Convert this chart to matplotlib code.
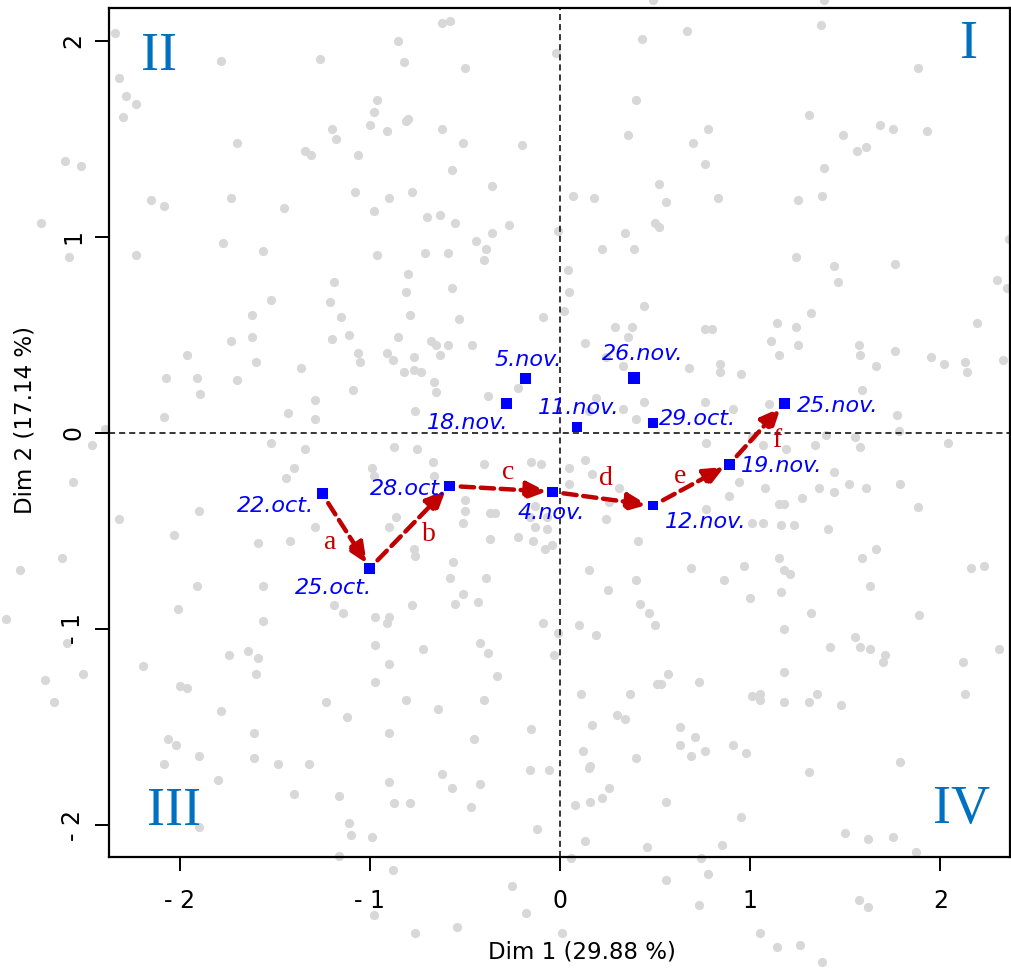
import matplotlib
matplotlib.use("Agg")
import matplotlib.pyplot as plt

# ---------------- data ----------------
# grey background individuals (Dim 1, Dim 2)
gx = [-2.34, -1.78, -1.26, -2.32, -2.28, -2.23, -2.30, -1.20, -1.18, -1.70, -1.34, -1.31, -2.60, -2.52,
      -2.15, -2.08, -1.73, -1.45, -2.73, -1.77, -1.56, -2.58, -2.23, -1.19, -1.52, -1.21, -1.62,
      -0.62, -0.58, -0.85, -0.82, -0.50, -0.02, 0.43, -0.96, -0.98, -1.00, -0.80, -0.81, -0.91, -0.62,
      -0.51, -0.20, 0.40, 0.36, -1.06, -0.57, -1.08, -0.90, -0.78, -0.36, 0.07, 0.18, 0.52, 0.56,
      -0.98, -0.70, -0.63, -0.55, -0.27, -0.36, -0.01, 0.34, 0.50, 0.52, -0.44, -0.39, -0.40, -0.96,
      -0.71, -0.59, 0.22, 0.39, -0.80, -0.81, -0.57, 0.04, 0.05, 0.44, -1.15, -0.79, -0.09, 0.02,
      0.49, 1.39,
      0.67, 1.37, 1.88, 1.31, 0.78, 0.70, 0.76, 1.49, 1.56, 1.61, 1.68, 1.75, 1.93, 1.39, 0.83, 1.25,
      1.38, 2.36, 1.24, 1.44, 1.76, 1.46, 2.30, 2.35, 1.32,
      -1.73, -1.62, -1.20, -1.96, -1.60, -1.36, -2.07, -1.91, -1.70, -1.89, -1.29, -1.43, -2.08, -1.29,
      -2.39, -2.46, -1.52, -1.34, -1.40, -1.44, -2.56, -1.90, -2.32, -2.03, -1.29, -1.42, -1.59, -2.62,
      -2.84, -1.91, -1.56, -2.01, -1.19, -2.91, -1.56, -2.59,
      -1.11, -1.06, -1.05, -0.91, -0.85, -0.88, -0.77, -0.77, -0.73, -0.82, -0.68, -0.65, -0.59, -0.63,
      -0.46, -0.66, -0.65, -1.09, -0.76, -0.38, -0.22, -0.53, 0.13, 0.29, 0.38, 0.36, 0.24, 0.33, 0.33,
      0.40, 0.44, 0.19, 0.15,
      -0.87, -0.75, -0.67, -0.99, -0.98, -0.66, -0.40, -0.15, -0.10, 0.05, 0.13, 0.17, 0.31, 0.05, 0.26,
      -0.50, -0.50, -0.37, -0.34, -0.13, -0.16, -0.13, -0.07, -0.07, -0.51, -0.90, -0.86, -0.37, -0.22,
      -0.14, -0.08, -0.04, -0.77, -0.76, -0.56, -0.58, -0.39, -0.51, -0.55, -0.43, -0.78, 0.15, 0.25,
      0.40, 0.42, 0.24, 0.41, -1.14, -0.97, -0.90, -0.91, -0.09, -0.01, 0.10, 0.19, 0.50, 0.47,
      0.76, 0.80, 1.14, 1.24, 1.11, 1.25, 1.15, 2.19, 1.57, 1.58, 1.76, 1.95, 2.02, 2.13, 2.14, 2.33,
      1.66, 0.68, 0.84, 0.84, 0.95, 1.59, 0.76, 1.10, 0.91, 1.77, 1.78, 1.40, 1.55, 1.01, 0.77, 1.07,
      1.19, 1.34, 1.58, 2.04, 1.44, 0.94, 1.08, 1.36, 1.44, 1.52, 1.61, 1.79, 0.89, 1.27, 1.15, 1.18,
      1.88, 0.77, 1.01, 1.07, 1.16, 1.23, 1.41, 1.66, 1.59, 1.15, 1.18, 1.21, 0.69, 0.97, 0.86, 1.63,
      1.16, 2.16, 2.23, 1.00, 1.32, 1.89, 1.18, 1.55,
      -1.74, -1.64, -1.59, -2.19, -1.60, -2.71, -2.51, -2.00, -1.96, -2.66, -1.23, -1.78, -1.61, -2.06,
      -2.02, -1.90, -2.08, -1.61, -1.48, -1.32, -1.80, -1.40, -1.90,
      -0.97, -0.72, -0.42, -0.38, -0.03, -0.90, -0.97, -0.33, -0.81, -0.64, -0.40, -1.12, -0.90, -0.15,
      -0.45, -0.16, -0.06, -0.62, -0.57, -0.42, -0.90, -1.16, -0.87, -0.79, -0.47, -1.11, -1.10, -0.99,
      -0.12, -1.16, 0.57, 0.51, 0.53, 0.11, 0.37, 0.30, 0.34, 0.17, 0.12, 0.40, 0.16, 0.15, 0.26, 0.22,
      0.16, 0.08, 0.56, 0.13, 0.46, 0.06, -0.88, -0.25, 0.56, -0.98, -0.18, -0.76, -0.54, 0.01,
      1.42, 1.58, 1.63, 1.71, 1.70, 2.31, 2.12, 1.18, 0.73, 1.01, 1.05, 1.05, 1.18, 1.31, 1.35, 1.48,
      2.13, 0.63, 0.63, 0.71, 0.69, 0.76, 0.91, 0.98, 1.31, 1.79, 0.95, 1.50, 1.62, 1.75, 0.85, 1.87,
      0.74, 0.78, 0.73, 1.57, 1.62, 1.05, 1.14, 1.26, 1.38]
gy = [2.04, 1.90, 1.91, 1.81, 1.72, 1.68, 1.61, 1.55, 1.50, 1.48, 1.44, 1.42, 1.39, 1.36,
      1.19, 1.16, 1.20, 1.15, 1.07, 0.97, 0.93, 0.90, 0.91, 0.77, 0.68, 0.67, 0.60,
      2.09, 2.10, 2.00, 1.89, 1.86, 1.94, 2.01, 1.70, 1.64, 1.57, 1.60, 1.59, 1.54, 1.55,
      1.48, 1.47, 1.70, 1.52, 1.42, 1.34, 1.23, 1.20, 1.23, 1.26, 1.21, 1.20, 1.27, 1.18,
      1.13, 1.10, 1.11, 1.07, 1.06, 1.02, 1.03, 1.02, 1.07, 1.05, 0.98, 0.94, 0.88, 0.91,
      0.92, 0.92, 0.94, 0.94, 0.81, 0.72, 0.74, 0.83, 0.72, 0.65, 0.59, 0.60, 0.59, 0.62,
      2.21, 2.21,
      2.05, 2.08, 1.86, 1.62, 1.55, 1.48, 1.37, 1.52, 1.44, 1.46, 1.57, 1.55, 1.54, 1.35, 1.20, 1.19,
      1.21, 0.99, 0.90, 0.85, 0.86, 0.77, 0.78, 0.74, 0.61,
      0.47, 0.49, 0.48, 0.40, 0.36, 0.33, 0.28, 0.28, 0.27, 0.20, 0.17, 0.10, 0.08, 0.07,
      0.02, -0.06, -0.05, -0.08, -0.18, -0.23, -0.25, -0.40, -0.44, -0.52, -0.48, -0.55, -0.56, -0.64,
      -0.70, -0.78, -0.78, -0.90, -0.88, -0.95, -0.96, -1.07,
      0.50, 0.41, 0.36, 0.41, 0.49, 0.37, 0.39, 0.32, 0.31, 0.31, 0.47, 0.45, 0.45, 0.40,
      0.45, 0.26, 0.21, 0.22, 0.11, 0.19, 0.23, 0.58, 0.46, 0.54, 0.54, 0.49, 0.39, 0.34, 0.12,
      0.07, 0.16, 0.18, 0.11,
      -0.07, -0.08, -0.15, -0.18, -0.22, -0.22, -0.16, -0.15, -0.16, -0.18, -0.14, -0.21, -0.28, -0.26, -0.35,
      -0.34, -0.40, -0.41, -0.41, -0.37, -0.43, -0.48, -0.43, -0.49, -0.46, -0.48, -0.43, -0.54, -0.53,
      -0.55, -0.59, -0.57, -0.59, -0.63, -0.66, -0.74, -0.74, -0.82, -0.87, -0.86, -0.88, -0.70, -0.80,
      -0.75, -0.87, -0.44, -0.55, -0.92, -0.94, -0.94, -0.97, -0.97, -1.02, -0.98, -1.03, -0.98, -0.92,
      0.53, 0.53, 0.56, 0.54, 0.47, 0.45, 0.40, 0.56, 0.45, 0.40, 0.42, 0.39, 0.35, 0.36, 0.31, 0.37,
      0.34, 0.33, 0.35, 0.31, 0.30, 0.22, 0.16, 0.15, 0.12, 0.09, 0.01, -0.01, -0.02, -0.02, -0.05, -0.06,
      -0.08, -0.06, -0.07, -0.05, -0.20, -0.25, -0.28, -0.28, -0.30, -0.26, -0.28, -0.26, -0.32, -0.33, -0.36, -0.36,
      -0.38, -0.39, -0.46, -0.46, -0.47, -0.47, -0.49, -0.59, -0.64, -0.64, -0.70, -0.72, -0.69, -0.68, -0.75, -0.78,
      -0.81, -0.69, -0.68, -0.84, -0.92, -0.93, -1.00, -1.04,
      -1.13, -1.11, -1.15, -1.19, -1.23, -1.26, -1.23, -1.29, -1.30, -1.37, -1.37, -1.42, -1.53, -1.56,
      -1.59, -1.65, -1.69, -1.66, -1.69, -1.69, -1.77, -1.84, -2.01,
      -1.08, -1.10, -1.07, -1.12, -1.13, -1.18, -1.27, -1.24, -1.36, -1.41, -1.36, -1.45, -1.53, -1.51,
      -1.56, -1.72, -1.72, -1.74, -1.81, -1.79, -1.78, -1.85, -1.89, -1.89, -1.91, -1.99, -2.05, -2.06,
      -2.02, -2.16, -1.23, -1.28, -1.28, -1.33, -1.33, -1.44, -1.46, -1.49, -1.62, -1.66, -1.70, -1.71, -1.81, -1.86,
      -1.88, -1.90, -1.88, -2.08, -2.11, -2.17, -2.23, -2.31, -2.28, -2.46, -2.45, -2.55, -2.52, -2.55,
      -1.09, -1.09, -1.10, -1.13, -1.17, -1.10, -1.17, -1.22, -1.27, -1.34, -1.33, -1.36, -1.37, -1.37, -1.33, -1.39,
      -1.33, -1.50, -1.59, -1.55, -1.65, -1.62, -1.59, -1.63, -1.73, -1.68, -1.96, -2.04, -2.07, -2.06, -2.10, -2.14,
      -2.17, -2.25, -2.41, -2.38, -2.42, -2.55, -2.62, -2.61, -2.70]

# supplementary (dated) points
dates = ['22.oct.', '25.oct.', '28.oct.', '29.oct.', '4.nov.', '5.nov.', '11.nov.',
         '12.nov.', '18.nov.', '19.nov.', '25.nov.', '26.nov.']
dim1 = [-1.25, -1.00, -0.58, 0.49, -0.04, -0.18, 0.09, 0.49, -0.28, 0.89, 1.18, 0.39]
dim2 = [-0.31, -0.69, -0.27, 0.05, -0.30, 0.28, 0.03, -0.37, 0.15, -0.16, 0.15, 0.28]

# trajectory between dates and its step labels
path = ['22.oct.', '25.oct.', '28.oct.', '4.nov.', '12.nov.', '19.nov.', '25.nov.']
step_labels = ['a', 'b', 'c', 'd', 'e', 'f']
step_x = [-1.21, -0.69, -0.27, 0.24, 0.63, 1.14]
step_y = [-0.56, -0.52, -0.20, -0.23, -0.22, -0.04]

quadrants = ['I', 'II', 'III', 'IV']
quad_x = [2.15, -2.11, -2.03, 2.11]
quad_y = [1.98, 1.92, -1.93, -1.92]

xticks = [-2, -1, 0, 1, 2]
xtick_labels = ['- 2', '- 1', '0', '1', '2']
yticks = [-2, -1, 0, 1, 2]
ytick_labels = ['- 2', '- 1', '0', '1', '2']
xlabel = 'Dim 1 (29.88 %)'
ylabel = 'Dim 2 (17.14 %)'

# ---------------- style ----------------
label_offset = {  # points
    '22.oct.': (-34, -9), '25.oct.': (-26, -14), '28.oct.': (-30, -2),
    '4.nov.': (-1, -15), '12.nov.': (38, -12), '19.nov.': (38, -1),
    '25.nov.': (38, -2), '29.oct.': (32, 3), '11.nov.': (1, 14),
    '18.nov.': (-28, -14), '5.nov.': (2, 13), '26.nov.': (6, 17)}
square_size = {'26.nov.': 80, '5.nov.': 64, '25.nov.': 64, '19.nov.': 64,
               '29.oct.': 48, '11.nov.': 50, '12.nov.': 48}

plt.rcParams['font.family'] = ['DejaVu Sans']
fig = plt.figure(figsize=(10.12, 9.69), dpi=100)
ax = fig.add_axes([109 / 1012, 1 - 857 / 969, 901 / 1012, 849 / 969])
ax.set_xlim(-2.371, 2.366)
ax.set_ylim(-2.163, 2.168)

ax.scatter(gx, gy, s=44, c='#d8d8d8', linewidths=0, clip_on=False, zorder=1)

ax.axhline(0, color='black', lw=1.1, ls=(0, (4, 2.6)), zorder=2)
ax.axvline(0, color='black', lw=1.1, ls=(0, (4, 2.6)), zorder=2)

red = '#c00000'
pos = {d: (x, y) for d, x, y in zip(dates, dim1, dim2)}
for i in range(len(path) - 1):
    x0, y0 = pos[path[i]]
    x1, y1 = pos[path[i + 1]]
    ax.annotate('', xy=(x1, y1), xytext=(x0, y0),
                arrowprops=dict(arrowstyle='-|>,head_length=0.55,head_width=0.24',
                                mutation_scale=22, color=red, lw=3.2,
                                linestyle=(0, (3, 1.5)), shrinkA=8, shrinkB=4),
                zorder=3)
for t, x, y in zip(step_labels, step_x, step_y):
    ax.text(x, y, t, color=red, fontsize=20, family='Liberation Serif',
            ha='center', va='center', zorder=5)

sizes = [square_size.get(d, 58) for d in dates]
ax.scatter(dim1, dim2, s=sizes, marker='s', c='#0000ff', linewidths=0, zorder=4)
for d, x, y in zip(dates, dim1, dim2):
    ax.annotate(d, (x, y), xytext=label_offset[d], textcoords='offset points',
                ha='center', va='center', color='#0000ff', fontsize=16,
                style='italic', zorder=5)

for q, x, y in zip(quadrants, quad_x, quad_y):
    ax.text(x, y, q, color='#0070c0', fontsize=39, family='Liberation Serif',
            ha='center', va='center', zorder=5)

ax.set_xticks(xticks)
ax.set_xticklabels(xtick_labels)
ax.set_yticks(yticks)
ax.set_yticklabels(ytick_labels, rotation=90, va='center')
ax.tick_params(axis='both', length=10, width=1.4, labelsize=17, color='black')
ax.tick_params(axis='x', pad=13)
ax.tick_params(axis='y', pad=7)
for s in ax.spines.values():
    s.set_linewidth(1.6)

ax.text(0.525, -0.112, xlabel, transform=ax.transAxes, ha='center', va='center', fontsize=16.5)
ax.text(-0.093, 0.515, ylabel, transform=ax.transAxes, ha='center', va='center',
        rotation=90, fontsize=16.5)

fig.savefig('out.png', dpi=100)
